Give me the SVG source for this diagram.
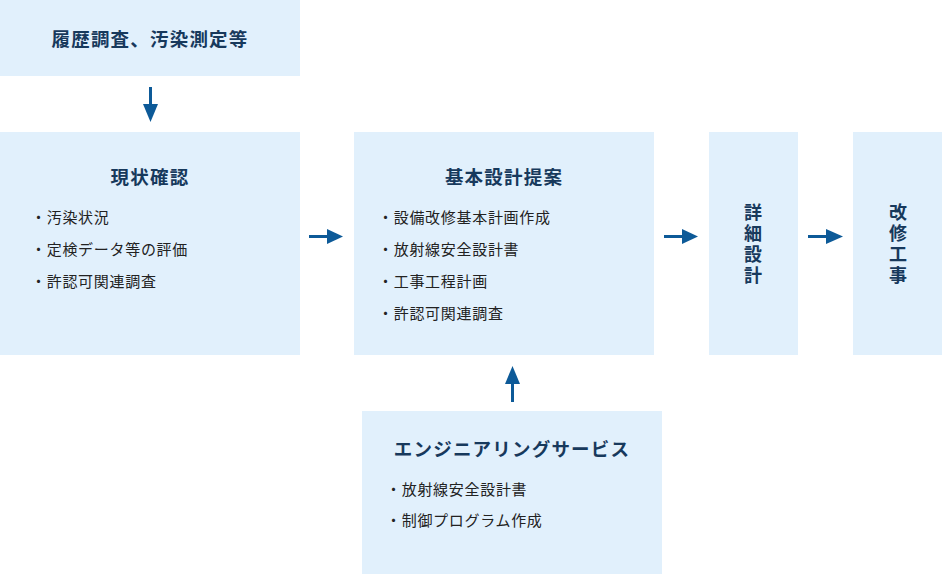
<svg xmlns="http://www.w3.org/2000/svg" width="942" height="574" viewBox="0 0 942 574">
<style>
.box{fill:#e1f0fc}
.title{font-family:"Noto Sans CJK JP","Noto Sans CJK SC",sans-serif;font-weight:bold;font-size:18.5px;fill:#17395c;letter-spacing:1.2px}
.vt{font-family:"Noto Sans CJK JP","Noto Sans CJK SC",sans-serif;font-weight:bold;font-size:18px;fill:#17395c;writing-mode:vertical-rl;letter-spacing:3px}
.item{font-family:"Noto Sans CJK JP","Noto Sans CJK SC",sans-serif;font-size:15px;fill:#222222;letter-spacing:0.7px}
.conn{stroke:#0d5a98;stroke-width:3;fill:none}
.head{fill:#0d5a98}
</style>
<rect width="942" height="574" fill="#ffffff"/>
<g id="node-history">
<rect class="box" x="0" y="0" width="300" height="76"/>
<text class="title" x="150" y="37.5" text-anchor="middle" dominant-baseline="central">履歴調査、汚染測定等</text>
</g>
<g id="node-current">
<rect class="box" x="0" y="132" width="300" height="223"/>
<text class="title" x="150" y="175.5" text-anchor="middle" dominant-baseline="central">現状確認</text>
<text class="item" x="31" y="216.5" dominant-baseline="central">・汚染状況</text>
<text class="item" x="31" y="248.5" dominant-baseline="central">・定検データ等の評価</text>
<text class="item" x="31" y="280.5" dominant-baseline="central">・許認可関連調査</text>
</g>
<g id="node-basic">
<rect class="box" x="354" y="132" width="300" height="223"/>
<text class="title" x="504" y="175.5" text-anchor="middle" dominant-baseline="central">基本設計提案</text>
<text class="item" x="378" y="216.5" dominant-baseline="central">・設備改修基本計画作成</text>
<text class="item" x="378" y="248.5" dominant-baseline="central">・放射線安全設計書</text>
<text class="item" x="378" y="280.5" dominant-baseline="central">・工事工程計画</text>
<text class="item" x="378" y="312.5" dominant-baseline="central">・許認可関連調査</text>
</g>
<g id="node-detail">
<rect class="box" x="709" y="132" width="89" height="223"/>
<text class="vt" x="753" y="245" text-anchor="middle">詳細設計</text>
</g>
<g id="node-work">
<rect class="box" x="853" y="132" width="89" height="223"/>
<text class="vt" x="898" y="245" text-anchor="middle">改修工事</text>
</g>
<g id="node-engineering">
<rect class="box" x="362" y="411" width="300" height="163"/>
<text class="title" x="512" y="447.5" text-anchor="middle" dominant-baseline="central">エンジニアリングサービス</text>
<text class="item" x="386" y="488.5" dominant-baseline="central">・放射線安全設計書</text>
<text class="item" x="386" y="519.5" dominant-baseline="central">・制御プログラム作成</text>
</g>
<g id="connectors">
<line class="conn" x1="150.5" y1="87" x2="150.5" y2="106"/>
<polygon class="head" points="143,104 158,104 150.5,122"/>
<line class="conn" x1="309" y1="236.5" x2="329" y2="236.5"/>
<polygon class="head" points="327,229 343,236.5 327,244"/>
<line class="conn" x1="664" y1="236.5" x2="684" y2="236.5"/>
<polygon class="head" points="682,229 698,236.5 682,244"/>
<line class="conn" x1="808" y1="236.5" x2="828" y2="236.5"/>
<polygon class="head" points="826,229 843,236.5 826,244"/>
<line class="conn" x1="512.5" y1="402" x2="512.5" y2="382"/>
<polygon class="head" points="505,384 520,384 512.5,366"/>
</g>
</svg>
